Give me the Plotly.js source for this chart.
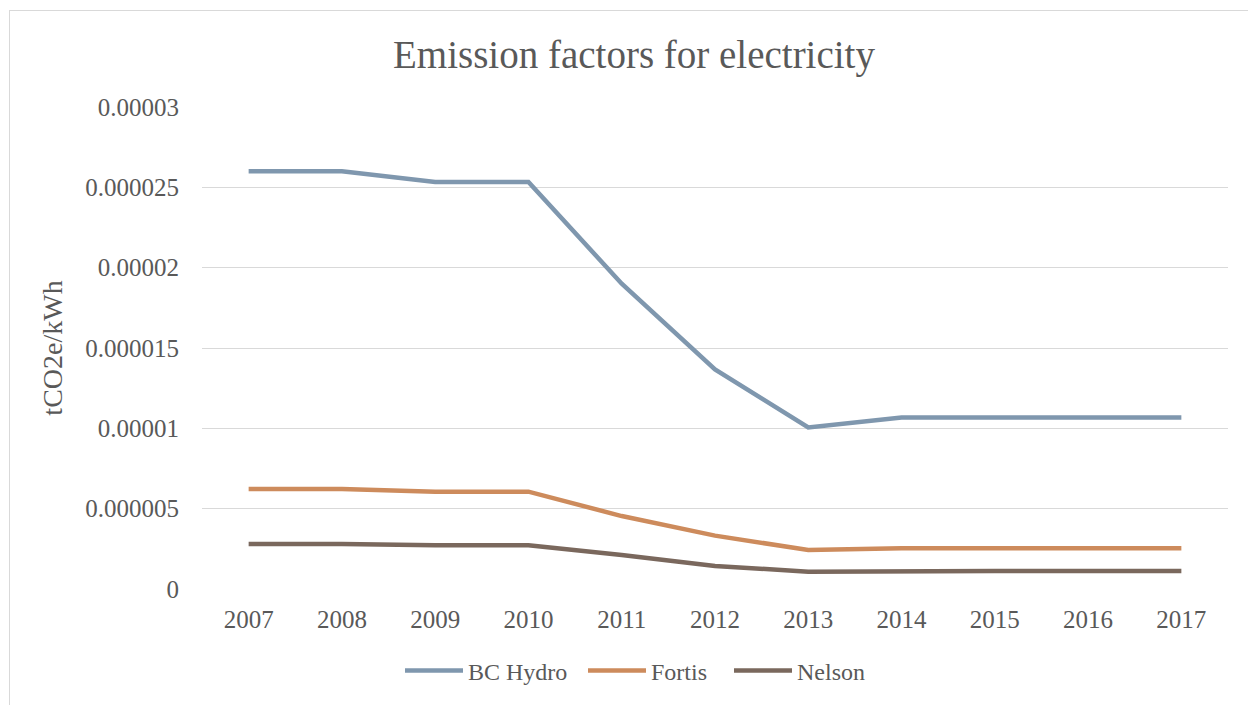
<!DOCTYPE html>
<html>
<head>
<meta charset="utf-8">
<script src="https://cdn.plot.ly/plotly-3.0.1.min.js"></script>
<style>
html,body{margin:0;padding:0;background:#fff;}
#chart{width:1248px;height:705px;position:absolute;left:0;top:0;}
#frame{position:absolute;left:9px;top:10px;width:1300px;height:760px;border:1px solid #d9d9d9;pointer-events:none;}
</style>
</head>
<body>
<div id="chart"></div>
<div id="frame"></div>
<script>
const years = ["2007","2008","2009","2010","2011","2012","2013","2014","2015","2016","2017"];
const bcHydro = [2.60e-5, 2.60e-5, 2.533e-5, 2.533e-5, 1.90e-5, 1.367e-5, 1.006e-5, 1.067e-5, 1.067e-5, 1.067e-5, 1.067e-5];
const fortis  = [6.22e-6, 6.22e-6, 6.06e-6, 6.06e-6, 4.54e-6, 3.32e-6, 2.43e-6, 2.53e-6, 2.53e-6, 2.53e-6, 2.53e-6];
const nelson  = [2.80e-6, 2.80e-6, 2.72e-6, 2.72e-6, 2.12e-6, 1.43e-6, 1.08e-6, 1.12e-6, 1.12e-6, 1.12e-6, 1.12e-6];
const seriesNames = ["BC Hydro", "Fortis", "Nelson"];
const yTickVals = [0, 0.000005, 0.00001, 0.000015, 0.00002, 0.000025, 0.00003];
const yTickText = ["0", "0.000005", "0.00001", "0.000015", "0.00002", "0.000025", "0.00003"];

const colors = ["#7f97ae", "#cd8b5c", "#7a685d"];
const font = "Liberation Serif, Times New Roman, serif";
const txt = "#595959";
const legendIds = ["legend", "legend2", "legend3"];
const legendLeft = [400, 583, 729];

const traces = [bcHydro, fortis, nelson].map((vals, i) => ({
  type: "scatter",
  mode: "lines",
  x: years,
  y: vals,
  name: seriesNames[i],
  legend: legendIds[i],
  line: {color: colors[i], width: 4.5, shape: "linear"},
  hoverinfo: "x+y+name"
}));

const layout = {
  width: 1248,
  height: 705,
  paper_bgcolor: "#ffffff",
  plot_bgcolor: "#ffffff",
  margin: {l: 202, r: 20, t: 107, b: 116},
  font: {family: font, color: txt, size: 25},
  title: {
    text: "Emission factors for electricity",
    font: {family: font, size: 39, color: txt},
    xref: "container", x: 0.508, xanchor: "center",
    yref: "container", y: 0.923, yanchor: "middle"
  },
  xaxis: {
    type: "category",
    range: [-0.5, 10.5],
    showgrid: false,
    zeroline: false,
    showline: false,
    ticks: "",
    ticklabelstandoff: 13,
    tickfont: {family: font, size: 25, color: txt}
  },
  yaxis: {
    range: [0, 0.00003],
    tickvals: yTickVals,
    ticktext: yTickText,
    showgrid: true,
    gridcolor: "#d9d9d9",
    gridwidth: 1.3,
    zeroline: false,
    showline: false,
    ticks: "",
    ticklabelstandoff: 22,
    tickfont: {family: font, size: 25, color: txt},
    title: {text: "tCO2e/kWh", font: {family: font, size: 28, color: txt}, standoff: 14}
  },
  showlegend: true
};

legendIds.forEach((id, i) => {
  layout[id] = {
    orientation: "h",
    xref: "container", x: legendLeft[i] / 1248, xanchor: "left",
    yref: "container", y: 1 - 671 / 705, yanchor: "middle",
    font: {family: font, size: 24, color: txt},
    itemwidth: 58,
    bgcolor: "rgba(0,0,0,0)"
  };
});

Plotly.newPlot("chart", traces, layout, {displayModeBar: false});
</script>
</body>
</html>
